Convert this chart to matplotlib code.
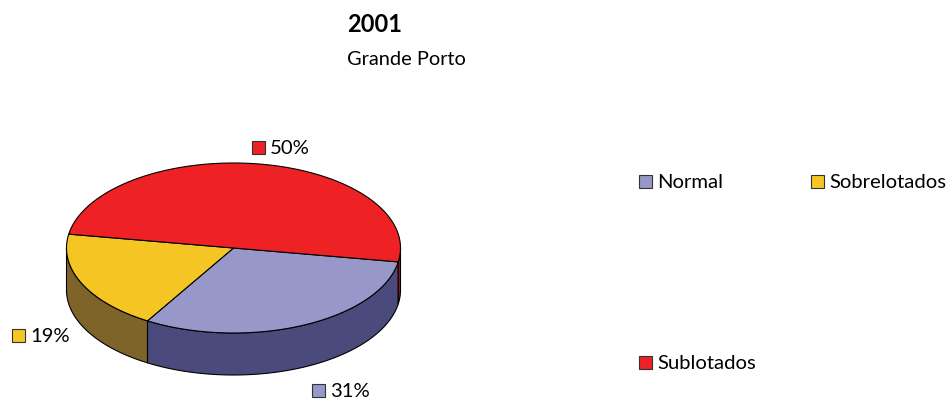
import numpy as np
import matplotlib
matplotlib.use("Agg")
import matplotlib.pyplot as plt
from matplotlib.patches import Polygon, Rectangle

plt.rcParams['font.family'] = ['Lato', 'DejaVu Sans']

# Data
categories = ["Normal", "Sobrelotados", "Sublotados"]
values = [31, 19, 50]
labels = ["31%", "19%", "50%"]
top_colors = ["#9797C9", "#F5C623", "#EE2224"]
side_colors = ["#4A4A7C", "#7F6429", "#8E1A1A"]
title = "2001"
subtitle = "Grande Porto"

W, H = 950, 399
fig = plt.figure(figsize=(W / 100, H / 100), dpi=100)
ax = fig.add_axes([0, 0, 1, 1])
ax.set_xlim(0, W)
ax.set_ylim(H, 0)
ax.axis("off")

# 3D pie geometry (pixel space, y downward)
cx, cy, a, b, depth = 233.5, 248.0, 167.0, 85.0, 42.0
start = -9.4  # degrees, slices run clockwise


def pt(theta_deg, dy=0.0):
    t = np.radians(theta_deg)
    return cx + a * np.cos(t), cy - b * np.sin(t) + dy


def arc(t1, t2, dy=0.0, n=200):
    ts = np.linspace(t1, t2, n)
    return [pt(t, dy) for t in ts]


total = float(sum(values))
spans = []
cur = start
for v in values:
    ang = 360.0 * v / total
    spans.append((cur - ang, cur))  # ccw range [lo, hi]
    cur -= ang

edge_kw = dict(edgecolor="black", linewidth=0.8, joinstyle="round")

# front side walls
for (lo, hi), sc in zip(spans, side_colors):
    for k in (-1, 0, 1):
        l, h = lo + 360 * k, hi + 360 * k
        l2, h2 = max(l, -180.0), min(h, 0.0)
        if h2 > l2:
            top = arc(l2, h2)
            bot = arc(h2, l2, dy=depth)
            ax.add_patch(Polygon(top + bot, closed=True, facecolor=sc, **edge_kw))

# top faces
for (lo, hi), tc in zip(spans, top_colors):
    poly = [(cx, cy)] + arc(lo, hi)
    ax.add_patch(Polygon(poly, closed=True, facecolor=tc, **edge_kw))

fs = 14.6
sq = 13

# data labels
label_pos = {"31%": (312, 390), "19%": (12, 335), "50%": (252, 147)}
for lab, tc in zip(labels, top_colors):
    x, y = label_pos[lab]
    ax.add_patch(Rectangle((x, y - sq / 2), sq, sq, facecolor=tc,
                           edgecolor="#333333", linewidth=0.8))
    ax.text(x + sq + 5, y, lab, fontsize=fs, va="center_baseline", ha="left")

# legend
legend_pos = [(639, 181), (811, 181), (639, 362)]
for (x, y), cat, tc in zip(legend_pos, categories, top_colors):
    ax.add_patch(Rectangle((x, y - sq / 2), sq, sq, facecolor=tc,
                           edgecolor="#333333", linewidth=0.8))
    ax.text(x + sq + 5, y, cat, fontsize=fs, va="center_baseline", ha="left")

# titles
ax.text(347, 32, title, fontsize=17, fontweight="bold", ha="left", va="baseline")
ax.text(347, 65, subtitle, fontsize=14.4, ha="left", va="baseline")

fig.savefig("out.png", dpi=100)
